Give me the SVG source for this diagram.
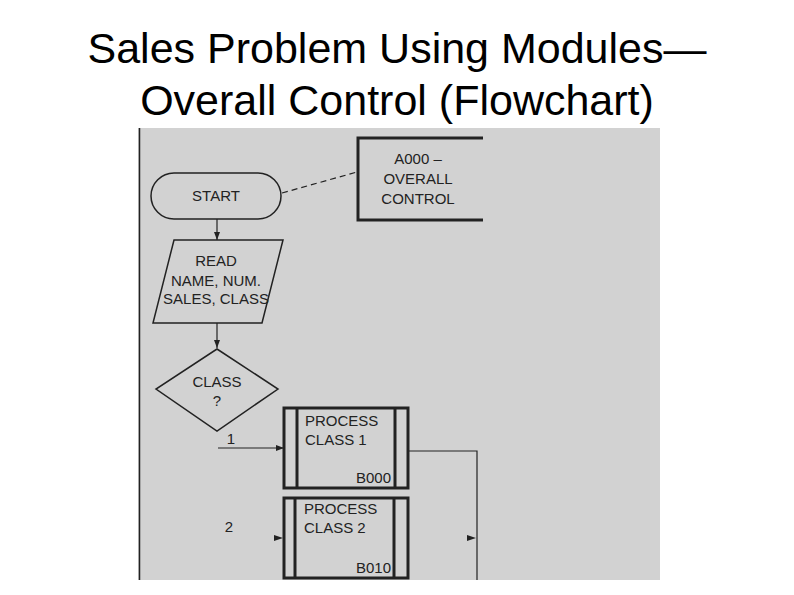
<svg xmlns="http://www.w3.org/2000/svg" width="794" height="595" viewBox="0 0 794 595">
<style>
text{font-family:"Liberation Sans",Arial,sans-serif;fill:#222}
.t{font-size:15px;text-anchor:middle}
.s{fill:none;stroke:#222;stroke-width:1.5}
.b{fill:none;stroke:#222;stroke-width:3}
.c{fill:none;stroke:#222;stroke-width:1.2}
</style>
<defs><marker id="a" markerWidth="8" markerHeight="6" refX="8" refY="3" orient="auto" markerUnits="userSpaceOnUse"><path d="M0,0L8,3L0,6z" fill="#222"/></marker></defs>
<rect width="794" height="595" fill="#fff"/>
<text x="397" y="63" font-size="43" text-anchor="middle" style="fill:#000">Sales Problem Using Modules—</text>
<text x="397" y="115" font-size="43" text-anchor="middle" style="fill:#000">Overall Control (Flowchart)</text>
<rect x="138" y="128" width="522" height="452" fill="#d2d2d2"/>
<line x1="139.5" y1="128" x2="139.5" y2="580" stroke="#222" stroke-width="1.5"/>
<g id="connectors">
<line class="c" x1="282" y1="193" x2="357" y2="172" stroke-dasharray="6,4"/>
<line class="c" x1="217" y1="219" x2="217" y2="240" marker-end="url(#a)"/>
<line class="c" x1="217" y1="323" x2="217" y2="348" marker-end="url(#a)"/>
<line class="c" x1="218" y1="448" x2="284" y2="448" marker-end="url(#a)"/>
<polyline class="c" points="408,451 477,451 477,580"/>
<path d="M274,535L283,538L274,541z" fill="#222"/>
<path d="M467,535L476,538L467,541z" fill="#222"/>
</g>
<g id="a000"><polyline class="b" points="483,138 358,138 358,220 483,220"/>
<text class="t" x="418" y="164">A000 –</text><text class="t" x="418" y="184">OVERALL</text><text class="t" x="418" y="204">CONTROL</text></g>
<g id="start"><rect class="s" x="151" y="173" width="130" height="46" rx="23"/><text class="t" x="216" y="201">START</text></g>
<g id="read"><polygon class="s" points="174,240 283,240 262,323 153,323"/>
<text class="t" x="216" y="266">READ</text><text class="t" x="216" y="286">NAME, NUM.</text><text class="t" x="216" y="304">SALES, CLASS</text></g>
<g id="class"><polygon class="s" points="217,349 278,389 217,431 156,389"/>
<text class="t" x="217" y="387">CLASS</text><text class="t" x="217" y="406">?</text></g>
<text class="t" x="231" y="444">1</text>
<text class="t" x="229" y="532">2</text>
<g id="b000"><rect class="b" x="284" y="408" width="124" height="80"/>
<line class="b" x1="297" y1="408" x2="297" y2="488"/><line class="b" x1="395" y1="408" x2="395" y2="488"/>
<text x="305" y="426" font-size="15">PROCESS</text><text x="305" y="445" font-size="15">CLASS 1</text>
<text x="391" y="483" font-size="15" text-anchor="end">B000</text></g>
<g id="b010"><rect class="b" x="284" y="498" width="124" height="80"/>
<line class="b" x1="295" y1="498" x2="295" y2="578"/><line class="b" x1="394" y1="498" x2="394" y2="578"/>
<text x="304" y="514" font-size="15">PROCESS</text><text x="304" y="533" font-size="15">CLASS 2</text>
<text x="391" y="573" font-size="15" text-anchor="end">B010</text></g>
</svg>
